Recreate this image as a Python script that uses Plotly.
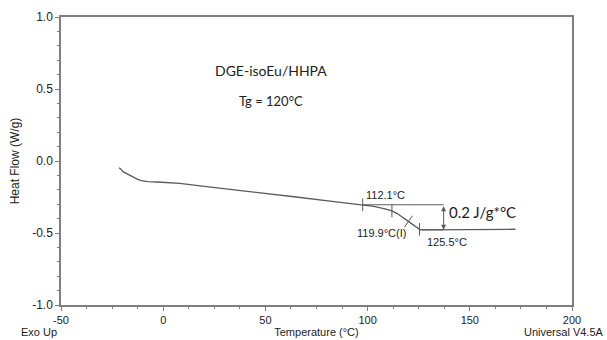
import plotly.graph_objects as go

# DSC curve (Temperature °C, Heat Flow W/g)
temp = [-21.6, -20.8, -19.7, -17.0, -14.8, -12.5, -10.7, -7.5, -3.0, 1.6, 8.1, 21.2, 32.6,
        50.0, 65.0, 81.6, 97.6, 103.0, 108.0, 111.9, 114.5, 117.0, 120.0, 122.5, 124.3,
        125.4, 127.0, 129.0, 140.0, 155.0, 172.3]
heat_flow = [-0.048, -0.055, -0.074, -0.095, -0.113, -0.127, -0.136, -0.143, -0.146, -0.148,
             -0.155, -0.178, -0.196, -0.225, -0.250, -0.279, -0.304, -0.315, -0.330, -0.346,
             -0.365, -0.390, -0.420, -0.447, -0.466, -0.475, -0.478, -0.478, -0.477, -0.476, -0.474]

# analysis marks
tick_temps = [97.6, 111.9, 125.4]
tick_hf = [-0.304, -0.346, -0.475]
infl_temp = [120.0]
infl_hf = [-0.420]
tangent_x = [97.6, 137.2]
tangent_y = [-0.304, -0.304]
lower_x = [125.4, 137.2]
lower_y = [-0.478, -0.478]

x_ticks = [-50, 0, 50, 100, 150, 200]
x_labels = ["-50", "0", "50", "100", "150", "200"]
y_ticks = [-1.0, -0.5, 0.0, 0.5, 1.0]
y_labels = ["-1.0", "-0.5", "0.0", "0.5", "1.0"]

grey = "#7f7f7f"
curve_col = "#5a5a5a"
font_main = "Liberation Sans, Arial, sans-serif"
font_cal = "Lato, Open Sans, sans-serif"

fig = go.Figure()
fig.add_trace(go.Scatter(x=temp, y=heat_flow, mode="lines",
                         line=dict(color=curve_col, width=1.3), showlegend=False, hoverinfo="skip"))
fig.add_trace(go.Scatter(x=tangent_x, y=tangent_y, mode="lines",
                         line=dict(color=curve_col, width=1), showlegend=False, hoverinfo="skip"))
fig.add_trace(go.Scatter(x=lower_x, y=lower_y, mode="lines",
                         line=dict(color=curve_col, width=1), showlegend=False, hoverinfo="skip"))
fig.add_trace(go.Scatter(x=tick_temps, y=tick_hf, mode="markers",
                         marker=dict(symbol="line-ns", size=9, line=dict(color=curve_col, width=1)),
                         showlegend=False, hoverinfo="skip"))
fig.add_trace(go.Scatter(x=infl_temp, y=infl_hf, mode="markers",
                         marker=dict(symbol="cross-thin", size=10, angle=35, line=dict(color=curve_col, width=1)),
                         showlegend=False, hoverinfo="skip"))

# double arrow
fig.add_annotation(x=137.2, y=-0.478, ax=137.2, ay=-0.304, xref="x", yref="y", axref="x", ayref="y",
                   text="", showarrow=True, arrowhead=2, arrowside="end+start", arrowsize=1,
                   arrowwidth=1, arrowcolor=curve_col, standoff=0, startstandoff=0)

ann_font = dict(family=font_main, size=11, color="#222")
fig.add_annotation(x=108.6, y=-0.235, text="112.1°C", showarrow=False, font=ann_font)
fig.add_annotation(x=106.6, y=-0.497, text="119.9°C(I)", showarrow=False, font=ann_font)
fig.add_annotation(x=138.8, y=-0.565, text="125.5°C", showarrow=False, font=ann_font)
fig.add_annotation(x=138.6, y=-0.351, text="0.2 J/g*°C", showarrow=False, xanchor="left",
                   font=dict(family=font_cal, size=15, color="#222"))
fig.add_annotation(x=52.5, y=0.63, text="DGE-isoEu/HHPA", showarrow=False,
                   font=dict(family=font_cal, size=14, color="#222"))
fig.add_annotation(x=52.5, y=0.42, text="Tg = 120°C", showarrow=False,
                   font=dict(family=font_cal, size=13, color="#222"))

# corner texts
corner_font = dict(family=font_main, size=11, color="#222")
fig.add_annotation(x=0, y=0, xref="paper", yref="paper", xshift=-42, yshift=-35,
                   text="Exo Up", showarrow=False, xanchor="left", yanchor="bottom", font=corner_font)
fig.add_annotation(x=1, y=0, xref="paper", yref="paper", xshift=34, yshift=-35,
                   text="Universal V4.5A", showarrow=False, xanchor="right", yanchor="bottom", font=corner_font)

fig.update_xaxes(range=[-50, 200], tickvals=x_ticks, ticktext=x_labels, ticks="outside", ticklen=4,
                 tickcolor=grey, automargin=False,
                 showline=True, linecolor=grey, linewidth=1.5, mirror=True, showgrid=False,
                 zeroline=False, tickfont=dict(family=font_main, size=11, color="#222"),
                 minor=dict(dtick=12.5, tick0=-50, ticks="outside", ticklen=2, tickcolor=grey),
                 title=dict(text="Temperature (°C)", font=dict(family=font_main, size=11, color="#222"),
                            standoff=1))
fig.update_yaxes(range=[-1.0, 1.0], tickvals=y_ticks, ticktext=y_labels, ticks="outside", ticklen=4,
                 tickcolor=grey, automargin=False, showline=True, linecolor=grey, linewidth=1.5, mirror=True,
                 showgrid=False, zeroline=False, tickfont=dict(family=font_main, size=12, color="#222"),
                 minor=dict(dtick=0.1, ticks="outside", ticklen=2, tickcolor=grey),
                 title=dict(text="Heat Flow (W/g)", font=dict(family=font_main, size=12, color="#222"),
                            standoff=10))

fig.update_layout(width=607, height=340, margin=dict(l=61, r=35, t=17, b=35),
                  paper_bgcolor="white", plot_bgcolor="white", showlegend=False)

fig.write_html("out.html", config={"displayModeBar": False},
               post_script="document.body.style.margin='0';")
